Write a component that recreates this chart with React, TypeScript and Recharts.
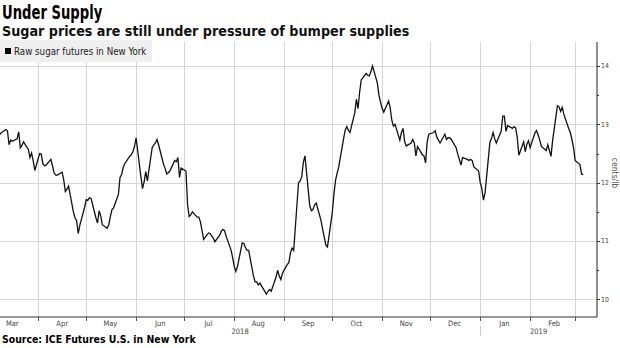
import React from "react";
import { LineChart, Line, XAxis, YAxis, Legend } from "recharts";

// raw sugar futures, cents/lb, one value per weekday
const mar18 = [12.82, 12.85, 12.91, 12.89, 12.65, 12.73, 12.71, 12.75, 12.87, 12.6, 12.64, 12.7, 12.57, 12.43, 12.51, 12.38, 12.21];
const apr18 = [12.5, 12.49, 12.33, 12.29, 12.3, 12.4, 12.29, 12.17, 12.13, 12.13, 12.18, 12.05, 11.85, 11.89, 11.94, 11.5, 11.4, 11.35, 11.13, 11.27, 11.58];
const may18 = [11.71, 11.7, 11.74, 11.73, 11.4, 11.31, 11.52, 11.43, 11.28, 11.22, 11.28, 11.42, 11.54, 11.57, 11.8, 12.09, 12.14, 12.26, 12.33, 12.45, 12.48, 12.53, 12.62];
const jun18 = [12.77, 12.1, 11.9, 12.02, 12.19, 12.03, 12.6, 12.65, 12.68, 12.74, 12.65, 12.32, 12.25, 12.15, 12.17, 12.2, 12.38, 12.36, 12.43, 12.09, 12.25];
const jul18 = [12.2, 11.62, 11.42, 11.45, 11.5, 11.41, 11.41, 11.33, 11.18, 11.03, 11.14, 11.13, 11.09, 11.05, 10.99, 11.1, 11.17, 11.2, 11.18, 11.08, 10.85, 10.72];
const aug18 = [10.57, 10.48, 10.56, 10.97, 10.96, 10.89, 10.84, 10.84, 10.4, 10.3, 10.3, 10.25, 10.28, 10.14, 10.09, 10.14, 10.17, 10.14, 10.38, 10.5, 10.4, 10.34, 10.45];
const sep18 = [10.6, 10.63, 10.8, 10.88, 10.84, 12.0, 12.03, 12.1, 12.35, 12.46, 11.6, 11.52, 11.54, 11.62, 11.65, 11.35, 11.2, 11.07, 10.93, 10.9];
const oct18 = [11.49, 11.8, 12.04, 12.16, 12.27, 12.75, 12.9, 12.96, 12.9, 12.86, 13.2, 13.43, 13.27, 13.55, 13.76, 13.87, 13.84, 13.83, 13.9, 14.0, 13.71, 13.5, 13.38];
const nov18 = [13.27, 13.21, 13.4, 13.28, 13.07, 12.97, 13.0, 12.73, 12.86, 12.93, 12.7, 12.63, 12.68, 12.74, 12.68, 12.46, 12.62, 12.48, 12.46, 12.34, 12.7, 12.83];
const dec18 = [12.86, 12.89, 12.78, 12.73, 12.68, 12.83, 12.74, 12.77, 12.77, 12.74, 12.6, 12.49, 12.4, 12.3, 12.43, 12.4, 12.38, 12.4, 12.38, 12.27, 12.2];
const jan19 = [12.0, 11.9, 11.7, 11.83, 12.69, 12.76, 12.86, 12.75, 12.68, 12.88, 13.14, 13.14, 12.88, 12.98, 12.93, 12.96, 12.94, 12.78, 12.47, 12.7, 12.53, 12.66, 12.72];
const feb19 = [12.6, 12.85, 12.89, 12.82, 12.73, 12.62, 12.55, 12.65, 12.55, 12.45, 12.72, 13.32, 13.3, 13.22, 13.29, 13.17, 12.93, 12.86, 12.74, 12.6];
const mar19 = [12.38, 12.31, 12.15, 12.14];

const months = [
  { y: 2018, m: 2, from: 8, vals: mar18 },
  { y: 2018, m: 3, from: 1, vals: apr18 },
  { y: 2018, m: 4, from: 1, vals: may18 },
  { y: 2018, m: 5, from: 1, vals: jun18 },
  { y: 2018, m: 6, from: 1, vals: jul18 },
  { y: 2018, m: 7, from: 1, vals: aug18 },
  { y: 2018, m: 8, from: 1, vals: sep18 },
  { y: 2018, m: 9, from: 1, vals: oct18 },
  { y: 2018, m: 10, from: 1, vals: nov18 },
  { y: 2018, m: 11, from: 1, vals: dec18 },
  { y: 2019, m: 0, from: 1, vals: jan19 },
  { y: 2019, m: 1, from: 1, vals: feb19 },
  { y: 2019, m: 2, from: 1, vals: mar19 },
];

const monthNames = ["Mar", "Apr", "May", "Jun", "Jul", "Aug", "Sep", "Oct", "Nov", "Dec", "Jan", "Feb"];
const yTicks = [10, 10.5, 11, 11.5, 12, 12.5, 13, 13.5, 14];
const yLabels = [10, 11, 12, 13, 14];

const DAY = 86400000;
const T0 = Date.UTC(2018, 2, 1);
const X_START = T0 + 7.37 * DAY;
const X_END = T0 + 378.6 * DAY;
const NEW_YEAR = Date.UTC(2019, 0, 1);

const data: { t: number; v: number }[] = [];
months.forEach(({ y, m, from, vals }) => {
  let i = 0;
  for (let d = from; d <= 31 && i < vals.length; d++) {
    const t = Date.UTC(y, m, d);
    const dt = new Date(t);
    if (dt.getUTCMonth() !== m) break;
    const wd = dt.getUTCDay();
    if (wd === 0 || wd === 6) continue;
    data.push({ t, v: vals[i++] });
  }
});

// month boundaries (tick marks + grid), month labels, year labels
const bounds: number[] = [];
const mids: number[] = [];
for (let k = 0; k < 12; k++) {
  const y = k < 10 ? 2018 : 2019;
  const m = (2 + k) % 12;
  mids.push(Date.UTC(y, m, 16));
  const ny = k + 1 < 10 ? 2018 : 2019;
  bounds.push(Date.UTC(ny, (3 + k) % 12, 1));
}
const years = [(X_START + NEW_YEAR) / 2, (NEW_YEAR + X_END) / 2];
const xTicks = [...bounds, ...mids, ...years].sort((a, b) => a - b);

const FONT = "'DejaVu Sans Condensed', 'DejaVu Sans', sans-serif";
const NARROW = "'Liberation Sans Narrow', 'DejaVu Sans Condensed', sans-serif";
const GRID = "#d6d6d6";
const PLOT_H = 275;
const PLOT_W = 597;
const MARGIN = { top: 42, right: 0, bottom: 0, left: 0 };

// ---- grid layer (drawn in a chart underneath, so it sits behind the line)
const XGridTick = (props: any) => {
  const { x, y, payload } = props;
  if (!bounds.includes(payload.value)) return <g />;
  const gx = Math.round(x) + 0.5;
  return <line x1={gx} x2={gx} y1={y - PLOT_H} y2={y} stroke={GRID} shapeRendering="crispEdges" />;
};

const YGridTick = (props: any) => {
  const { x, y, payload } = props;
  if (!yLabels.includes(payload.value)) return <g />;
  const gy = Math.round(y) + 0.5;
  return <line x1={x - PLOT_W} x2={x} y1={gy} y2={gy} stroke={GRID} shapeRendering="crispEdges" />;
};

// ---- visible axes
const XTick = (props: any) => {
  const { x, y, payload } = props;
  const v = payload.value;
  if (bounds.includes(v)) {
    const gx = Math.round(x) + 0.5;
    return (
      <g>
        <line x1={gx} x2={gx} y1={y} y2={y + 4} stroke="#555" shapeRendering="crispEdges" />
        {v === NEW_YEAR && <line x1={gx} x2={gx} y1={y + 9} y2={y + 19} stroke="#ccc" shapeRendering="crispEdges" />}
      </g>
    );
  }
  const mi = mids.indexOf(v);
  if (mi >= 0) {
    return (
      <text x={x} y={y + 9} textAnchor="middle" fontSize={7.5} fill="#444" fontFamily={NARROW}>
        {monthNames[mi]}
      </text>
    );
  }
  const yi = years.indexOf(v);
  return (
    <text x={x} y={y + 17} textAnchor="middle" fontSize={7.5} fill="#444" fontFamily={NARROW}>
      {yi === 0 ? "2018" : "2019"}
    </text>
  );
};

const YTick = (props: any) => {
  const { x, y, payload } = props;
  const major = yLabels.includes(payload.value);
  const gy = Math.round(y) + 0.5;
  return (
    <g>
      <line x1={x} x2={x + (major ? 3 : 2)} y1={gy} y2={gy} stroke="#333" shapeRendering="crispEdges" />
      {major && (
        <text x={x + 4} y={y + 2.3} fontSize={6.8} fill="#444" fontFamily={NARROW}>
          {payload.value}
        </text>
      )}
    </g>
  );
};

const LegendBox = () => (
  <div
    style={{
      width: 152,
      height: 22,
      background: "#efefef",
      display: "flex",
      alignItems: "center",
      fontFamily: NARROW,
      fontSize: 9.7,
      color: "#222",
    }}
  >
    <span style={{ display: "inline-block", width: 6, height: 6, background: "#000", margin: "0 3px 0 5px" }} />
    Raw sugar futures in New York
  </div>
);

const axisCommon = {
  interval: 0 as const,
  tickLine: false,
  tickSize: 0,
  tickMargin: 0,
  allowDataOverflow: true,
};

export default function App() {
  return (
    <div style={{ position: "absolute", left: 0, top: 0, width: 620, height: 348, background: "#fff", fontFamily: FONT }}>
      <div
        style={{
          position: "absolute",
          left: 2,
          top: 1,
          fontSize: 19,
          fontWeight: "bold",
          color: "#000",
          lineHeight: "22px",
          whiteSpace: "nowrap",
          transform: "scaleX(0.77)",
          transformOrigin: "left",
        }}
      >
        Under Supply
      </div>
      <div style={{ position: "absolute", left: 2, top: 23, fontSize: 14.2, fontWeight: "bold", color: "#111", lineHeight: "16px", whiteSpace: "nowrap" }}>
        Sugar prices are still under pressure of bumper supplies
      </div>

      {/* grid chart, underneath */}
      <div style={{ position: "absolute", left: 0, top: 0 }}>
        <LineChart width={620} height={348} data={data} margin={MARGIN}>
          <XAxis type="number" dataKey="t" domain={[X_START, X_END]} ticks={bounds} tick={<XGridTick />} axisLine={false} height={31} {...axisCommon} />
          <YAxis orientation="right" domain={[9.7, 14.41]} ticks={yLabels} tick={<YGridTick />} axisLine={false} width={23} {...axisCommon} />
        </LineChart>
      </div>

      {/* line + axes, on top */}
      <div style={{ position: "absolute", left: 0, top: 0 }}>
        <LineChart width={620} height={348} data={data} margin={MARGIN}>
          <XAxis
            type="number"
            dataKey="t"
            domain={[X_START, X_END]}
            ticks={xTicks}
            tick={<XTick />}
            axisLine={{ stroke: "#333" }}
            height={31}
            {...axisCommon}
          />
          <YAxis
            orientation="right"
            domain={[9.7, 14.41]}
            ticks={yTicks}
            tick={<YTick />}
            axisLine={{ stroke: "#222" }}
            width={23}
            {...axisCommon}
            label={{
              content: () => (
                <text transform="translate(612,173) rotate(90)" textAnchor="middle" fontSize={8.5} fill="#555" fontFamily={NARROW}>
                  cents/lb
                </text>
              ),
            }}
          />
          <Legend
            layout="vertical"
            align="center"
            verticalAlign="middle"
            wrapperStyle={{ top: 40, left: 0, width: 152, height: 22 }}
            content={() => <LegendBox />}
          />
          <Line type="linear" dataKey="v" stroke="#111" strokeWidth={1.3} dot={false} isAnimationActive={false} />
        </LineChart>
      </div>

      <div style={{ position: "absolute", left: 2, top: 333, fontSize: 10.4, fontWeight: "bold", color: "#000", lineHeight: "13px", whiteSpace: "nowrap" }}>
        Source: ICE Futures U.S. in New York
      </div>
    </div>
  );
}
